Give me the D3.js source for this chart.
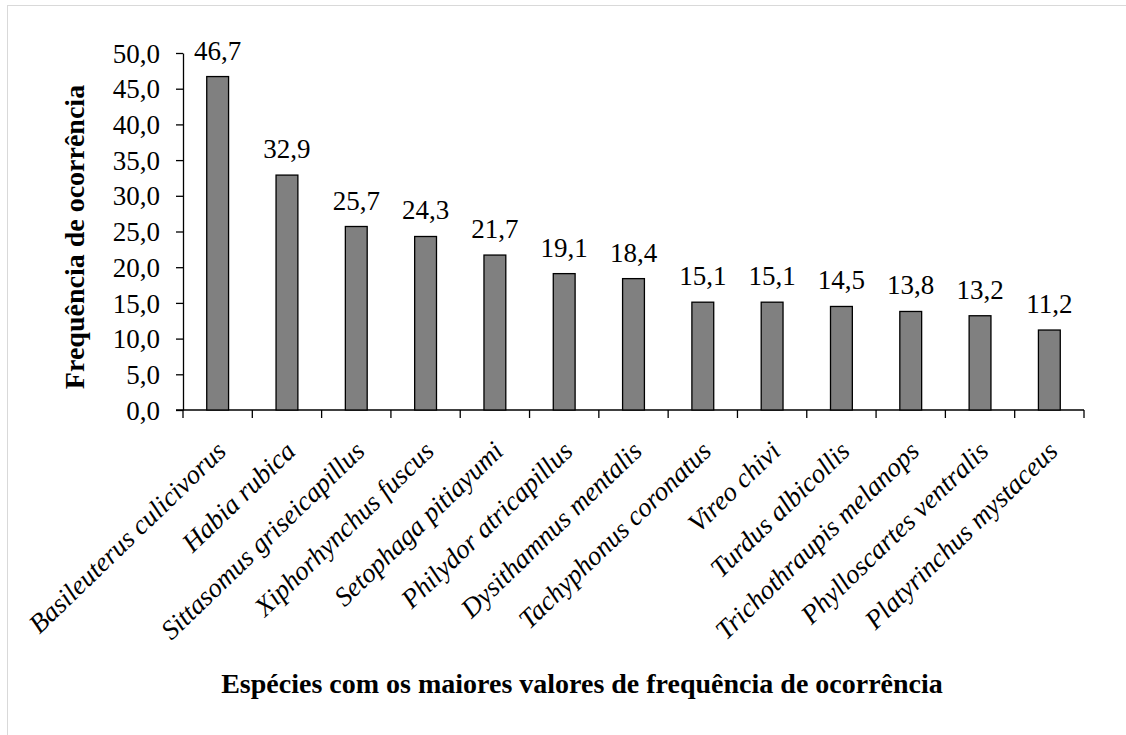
<!DOCTYPE html>
<html>
<head>
<meta charset="utf-8">
<script src="https://cdn.jsdelivr.net/npm/d3@7"></script>
<style>
  body { margin: 0; background: #fff; }
</style>
</head>
<body>
<div id="chart"></div>
<script>
// ── data ──────────────────────────────────────────────
const species = [
  "Basileuterus culicivorus", "Habia rubica", "Sittasomus griseicapillus",
  "Xiphorhynchus fuscus", "Setophaga pitiayumi", "Philydor atricapillus",
  "Dysithamnus mentalis", "Tachyphonus coronatus", "Vireo chivi",
  "Turdus albicollis", "Trichothraupis melanops", "Phylloscartes ventralis",
  "Platyrinchus mystaceus"
];
const frequency = [46.7, 32.9, 25.7, 24.3, 21.7, 19.1, 18.4, 15.1, 15.1, 14.5, 13.8, 13.2, 11.2];
const yTicks = [0, 5, 10, 15, 20, 25, 30, 35, 40, 45, 50];

const W = 1126, H = 735;
const FONT = '"Liberation Serif", "Times New Roman", serif';
const fmt = v => v.toFixed(1).replace(".", ",");

const svg = d3.select("#chart").append("svg")
  .attr("width", W).attr("height", H)
  .attr("font-family", FONT);

// outer frame (only top/left visible in the crop)
svg.append("rect")
  .attr("x", 7.5).attr("y", 5.5)
  .attr("width", W + 10).attr("height", H + 10)
  .attr("fill", "none").attr("stroke", "#d9d9d9");

// ── scales ────────────────────────────────────────────
const x = d3.scaleBand()
  .domain(species)
  .range([183, 1084])
  .paddingInner(0.685).paddingOuter(0.3425);
const y = d3.scaleLinear()
  .domain([0, 50])
  .range([410, 53]);

// ── axes ──────────────────────────────────────────────
const yAxis = svg.append("g")
  .attr("transform", "translate(183,0)")
  .call(d3.axisLeft(y).tickValues(yTicks).tickFormat(fmt).tickSize(7).tickSizeOuter(0))
  .attr("font-family", null).attr("font-size", null);
yAxis.select(".domain").attr("stroke", "#000").attr("stroke-width", 1.3);
yAxis.selectAll(".tick line").attr("stroke", "#000").attr("stroke-width", 1.3);
yAxis.selectAll("text")
  .attr("x", -23)
  .attr("dy", "0.34em")
  .style("font-family", FONT)
  .style("font-size", "27px")
  .style("fill", "#000");

// x axis: ticks at band boundaries
const bounds = species.map(s => x(s) - x.step() * x.paddingInner() / 2)
  .concat([1084]);
const xAxisG = svg.append("g");
xAxisG.append("line")
  .attr("x1", 183 - 7).attr("x2", 1084)
  .attr("y1", y(0)).attr("y2", y(0))
  .attr("stroke", "#000").attr("stroke-width", 1.3);
xAxisG.selectAll("line.tk")
  .data(bounds).join("line")
  .attr("class", "tk")
  .attr("x1", d => d).attr("x2", d => d)
  .attr("y1", y(0)).attr("y2", y(0) + 8)
  .attr("stroke", "#000").attr("stroke-width", 1.3);

// ── bars ──────────────────────────────────────────────
svg.append("g")
  .selectAll("rect")
  .data(frequency)
  .join("rect")
  .attr("x", (d, i) => x(species[i]))
  .attr("y", d => y(d))
  .attr("width", x.bandwidth())
  .attr("height", d => y(0) - y(d))
  .attr("fill", "#808080")
  .attr("stroke", "#000")
  .attr("stroke-width", 1.3);

// value labels
svg.append("g")
  .selectAll("text")
  .data(frequency)
  .join("text")
  .attr("x", (d, i) => x(species[i]) + x.bandwidth() / 2)
  .attr("y", d => y(d) - 17)
  .attr("text-anchor", "middle")
  .style("font-family", FONT)
  .style("font-size", "27px")
  .text(fmt);

// category labels, rotated
svg.append("g")
  .selectAll("text")
  .data(species)
  .join("text")
  .attr("transform", d => `translate(${x(d) + x.bandwidth() / 2 + 10},${y(0) + 43}) rotate(-44)`)
  .attr("text-anchor", "end")
  .style("font-family", FONT)
  .style("font-size", "27px")
  .style("font-style", "italic")
  .text(d => d);

// ── titles ────────────────────────────────────────────
svg.append("text")
  .attr("x", 582).attr("y", 693)
  .attr("text-anchor", "middle")
  .style("font-family", FONT)
  .style("font-size", "28px")
  .style("font-weight", "bold")
  .text("Espécies com os maiores valores de frequência de ocorrência");

svg.append("text")
  .attr("transform", "translate(84,237) rotate(-90)")
  .attr("text-anchor", "middle")
  .style("font-family", FONT)
  .style("font-size", "28px")
  .style("font-weight", "bold")
  .text("Frequência de ocorrência");
</script>
</body>
</html>
